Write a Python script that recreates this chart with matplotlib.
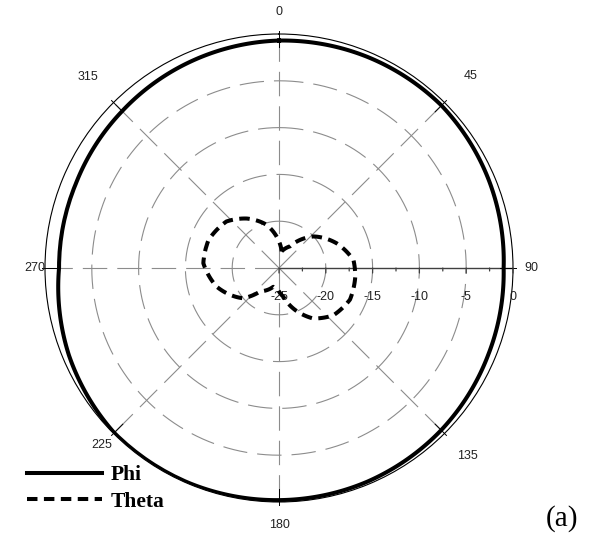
import numpy as np
import matplotlib
matplotlib.use("Agg")
import matplotlib.pyplot as plt

# ---- data ----
phi_angles = [0, 22.5, 45, 67.5, 90, 112.5, 135, 157.5, 180, 202.5, 225, 247.5, 270, 292.5, 315, 337.5, 360]
phi_db = [-0.7, -0.55, -0.45, -0.7, -1.0, -0.8, -0.5, -0.3, -0.2, -0.1, -0.1, -0.7, -1.5, -1.5, -1.3, -1.0, -0.7]

theta_angles = [9, 27, 47.6, 66.8, 83.9, 96.5, 114, 131, 146, 159, 171.5, 183, 197, 218.7,
                229.7, 253.3, 273.6, 291.6, 311.5, 327, 344, 358.6, 369]
theta_db = [-23.2, -22.4, -20.0, -18.3, -17.0, -16.8, -16.7, -17.3, -18.5, -20.2, -21.9, -22.7, -22.9, -21.8,
            -20.0, -18.05, -16.9, -16.9, -17.5, -18.7, -20.2, -22.0, -23.2]

angle_ticks = [0, 45, 90, 135, 180, 225, 270, 315]
angle_labels = ["0", "45", "90", "135", "180", "225", "270", "315"]
r_ticks = [-25, -20, -15, -10, -5, 0]
r_labels = ["-25", "-20", "-15", "-10", "-5", "0"]
series_names = ["Phi", "Theta"]

# ---- figure ----
W, H = 593, 538
fig = plt.figure(figsize=(W / 100, H / 100), dpi=100)
cx, cy, R = 279, 268, 234
ax = fig.add_axes([(cx - R) / W, (H - cy - R) / H, 2 * R / W, 2 * R / H], projection="polar")
ax.set_theta_zero_location("N")
ax.set_theta_direction(-1)
rmin, rmax = -25, 0
ax.set_ylim(rmin, rmax)
ax.set_xticks([])
ax.set_yticks([])
ax.grid(False)
ax.spines["polar"].set_color("black")
ax.spines["polar"].set_linewidth(0.8)

grid_col = "#8c8c8c"
tt = np.linspace(0, 2 * np.pi, 721)
for r in r_ticks[1:-1]:
    ax.plot(tt, np.full_like(tt, r), color=grid_col, lw=0.8, dashes=(22, 9), zorder=1)
for a in angle_ticks:
    t = np.deg2rad(a)
    if a == 90:
        ax.plot([t, t], [rmin, rmax], color="#404040", lw=1.0, zorder=2)
    else:
        ax.plot([t, t], [rmin, rmax], color=grid_col, lw=0.8, dashes=(22, 9), zorder=1)
    # outer angular tick
    ax.plot([t, t], [-1.4, 0.3], color="black", lw=0.7, clip_on=False, zorder=3)

# radial ticks along the 90 deg axis
t90 = np.pi / 2
px_per_unit = R / (rmax - rmin)
for v in np.arange(rmin, rmax + 0.01, 2.5):
    major = abs(v / 5 - round(v / 5)) < 1e-6
    ln = 5 if major else 3
    ax.annotate("", xy=(t90, v), xycoords="data",
                xytext=(0, -ln), textcoords="offset pixels",
                arrowprops=dict(arrowstyle="-", color="#404040", lw=0.9, shrinkA=0, shrinkB=0))
for v, lab in zip(r_ticks, r_labels):
    ax.annotate(lab, xy=(t90, v), xytext=(0, -29), textcoords="offset pixels",
                ha="center", va="center", fontsize=9, family="Liberation Sans", color="#222222")

# angle labels (measured pixel distances from the centre)
label_px = {0: 256, 45: 271, 90: 252, 135: 266, 180: 257, 225: 250, 270: 244, 315: 270}
for a, lab in zip(angle_ticks, angle_labels):
    r = rmax + (label_px[a] - R) / px_per_unit
    ax.text(np.deg2rad(a), r, lab, ha="center", va="center", fontsize=9,
            family="Liberation Sans", color="#222222", clip_on=False)

# ---- series ----
l1, = ax.plot(np.deg2rad(phi_angles), phi_db, color="black", lw=2.9, zorder=5, label=series_names[0])
l2, = ax.plot(np.deg2rad(theta_angles), theta_db, color="black", lw=2.9, zorder=5,
              linestyle=(0, (2.6, 1.6)), label=series_names[1])
# draw segments as polar arcs/spirals rather than straight chords
for ln_ in (l1, l2):
    ln_.get_path()._interpolation_steps = 40

fig.legend(handles=[l1, l2], loc="upper left", bbox_to_anchor=(27 / W, 1 - 465 / H),
           frameon=False, borderpad=0, borderaxespad=0, handlelength=3.5, handletextpad=0.37,
           labelspacing=0.3, prop=dict(family="Liberation Serif", weight="bold", size=15.5))

fig.text(562 / W, 1 - 519 / H, "(a)", ha="center", va="center", fontsize=21, family="Liberation Serif")

fig.savefig("out.png", dpi=100)
